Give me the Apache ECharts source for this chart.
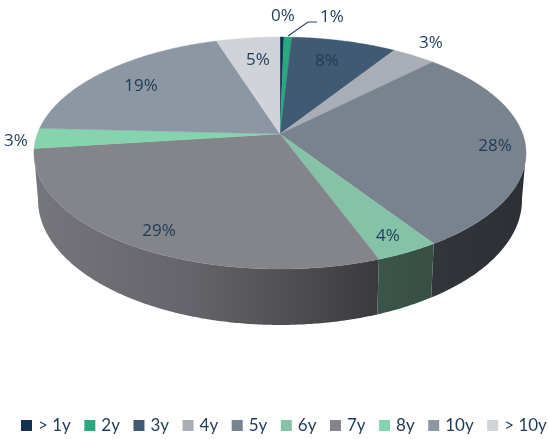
<!DOCTYPE html>
<html>
<head>
<meta charset="utf-8">
<style>html,body{margin:0;padding:0;background:#fff}#chart{width:548px;height:439px}</style>
<script src="https://cdn.jsdelivr.net/npm/echarts@6/dist/echarts.min.js"></script>
</head>
<body>
<div id="chart"></div>
<script>
// Share of portfolio by maturity bucket, in percent
const categories = ['> 1y', '2y', '3y', '4y', '5y', '6y', '7y', '8y', '10y', '> 10y'];
const shares = [0.3, 0.6, 8.1, 3.4, 28.4, 3.6, 28.6, 2.8, 19.3, 4.9];
const colors = ['#12304f', '#2aa87f', '#405a73', '#a9aeb6', '#78838e', '#85c2a8', '#84848b', '#85d3af', '#8d97a3', '#d0d4d8'];
// Label anchors in page pixels, one per bucket
const labelAnchors = [[283, 16], [332, 17], [327, 61], [431, 43], [495, 146], [388, 236], [159, 231], [16, 141], [141, 86], [258, 60]];
const leaderLine = [[288, 36], [308, 22], [317, 22]];

// Tilted disc: a circle through a projective map, so the hub sits above the ellipse centre
const tilt = 0.164;
const topFace = { cx: 280, hub: 134, rx: 242.7, ry: 112.9 };
const baseFace = { cx: 280, hub: 179.5, rx: 238.7, ry: 121.6 };
// Part of the turn where the rim wall faces the viewer
const wallRange = [0.275, 0.7245];
// Brightness of the rim wall from left to right [x, factor]
const wallShade = [[38, 0.89], [190, 0.76], [300, 0.585], [378, 0.44], [522, 0.37]];

function rimPoint(face, turn) {
  const a = turn * 2 * Math.PI, u = Math.sin(a), v = -Math.cos(a), w = 1 - tilt * v;
  return [face.cx + face.rx * u / w, face.hub + face.ry * v / w];
}
function arc(face, from, to) {
  const n = Math.max(2, Math.ceil((to - from) * 720)), pts = [];
  for (let i = 0; i <= n; i++) pts.push(rimPoint(face, from + (to - from) * i / n));
  return pts;
}
function dim(hex, f) {
  const c = parseInt(hex.slice(1), 16);
  const ch = s => Math.round(((c >> s) & 255) * f);
  return 'rgb(' + ch(16) + ',' + ch(8) + ',' + ch(0) + ')';
}
function wallFill(hex) {
  const x0 = wallShade[0][0], x1 = wallShade[wallShade.length - 1][0];
  return {
    type: 'linear', global: true, x: x0, y: 0, x2: x1, y2: 0,
    colorStops: wallShade.map(s => ({ offset: (s[0] - x0) / (x1 - x0), color: dim(hex, s[1]) }))
  };
}

let running = 0;
const series = categories.map((name, i) => {
  const start = running;
  running += shares[i];
  return {
    type: 'custom',
    name,
    coordinateSystem: 'none',
    silent: true,
    itemStyle: { color: colors[i] },
    data: [[shares[i], start]],
    renderItem(params, api) {
      const from = api.value(1) / 100, to = from + api.value(0) / 100;
      const rim = arc(topFace, from, to);
      const children = [];
      const wallFrom = Math.max(from, wallRange[0]), wallTo = Math.min(to, wallRange[1]);
      if (wallTo > wallFrom) {
        children.push({
          type: 'polygon', z2: 1,
          shape: { points: arc(topFace, wallFrom, wallTo).concat(arc(baseFace, wallFrom, wallTo).reverse()) },
          style: { fill: wallFill(colors[i]) }
        });
      }
      children.push({
        type: 'polygon', z2: 2,
        shape: { points: [[topFace.cx, topFace.hub]].concat(rim) },
        style: { fill: colors[i], stroke: colors[i], lineWidth: 0.4 }
      }, {
        type: 'text', z2: 5,
        style: {
          x: labelAnchors[i][0], y: labelAnchors[i][1],
          text: Math.round(api.value(0)) + '%',
          align: 'center', verticalAlign: 'middle',
          fill: '#1f3a56', font: '17px "Open Sans"'
        }
      });
      if (i === 1) {
        children.push({
          type: 'polyline', z2: 5,
          shape: { points: leaderLine },
          style: { fill: 'none', stroke: '#2b4660', lineWidth: 1.2 }
        });
      }
      return { type: 'group', children };
    }
  };
});

const chart = echarts.init(document.getElementById('chart'), null, { renderer: 'canvas' });
chart.setOption({
  animation: false,
  backgroundColor: '#ffffff',
  legend: {
    left: 21, top: 417, padding: 0,
    icon: 'rect', itemWidth: 11, itemHeight: 11, itemGap: 13.5,
    selectedMode: false,
    textStyle: { color: '#1f3a56', fontFamily: 'Lato', fontSize: 17, padding: [0, 0, 0, 1] },
    data: categories
  },
  series
});
</script>
</body>
</html>
